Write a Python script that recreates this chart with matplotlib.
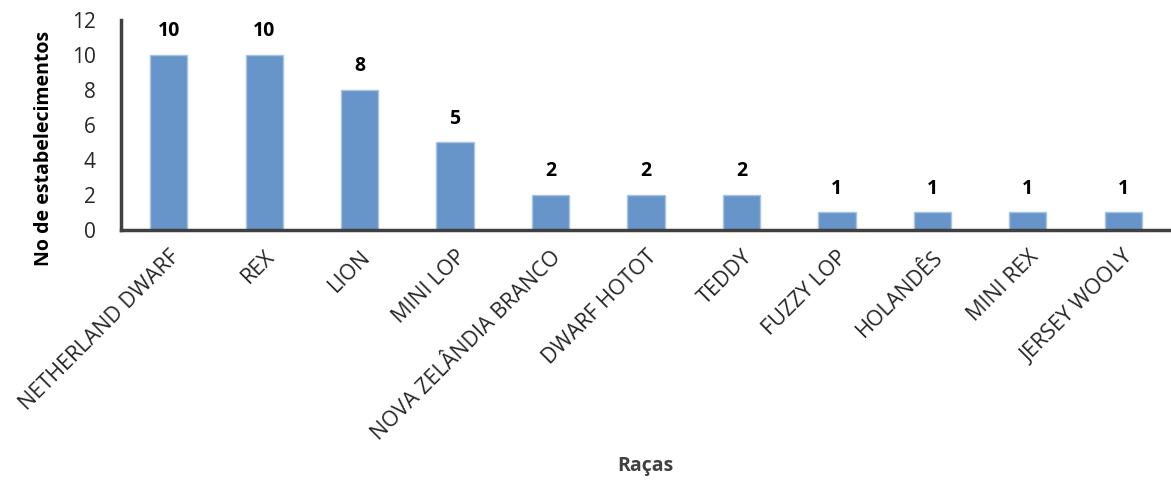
import matplotlib.pyplot as plt

plt.rcParams['font.family'] = ['Open Sans', 'DejaVu Sans']

racas = ['NETHERLAND DWARF', 'REX', 'LION', 'MINI LOP', 'NOVA ZELÂNDIA BRANCO',
         'DWARF HOTOT', 'TEDDY', 'FUZZY LOP', 'HOLANDÊS', 'MINI REX', 'JERSEY WOOLY']
estabelecimentos = [10, 10, 8, 5, 2, 2, 2, 1, 1, 1, 1]

bar_color = '#6795C9'
axis_color = '#404040'

fig = plt.figure(figsize=(11.71, 4.82), dpi=100)
ax = fig.add_axes([0.1033, 0.523, 0.8967, 0.4355])

x = range(len(racas))
bars = ax.bar(x, estabelecimentos, width=0.39, color=bar_color,
              edgecolor='#A9C3E3', linewidth=1)

for xi, v in zip(x, estabelecimentos):
    ax.annotate(str(v), (xi, v), xytext=(0, 10), textcoords='offset points',
                ha='center', va='bottom', fontsize=14, fontweight='bold', color='black')

ax.set_xlim(-0.5, len(racas) - 0.5)
ax.set_ylim(0, 12)
ax.set_yticks(range(0, 13, 2))
ax.set_xticks(list(x))
ax.set_xticklabels(racas, rotation=45, ha='right', va='top', rotation_mode='anchor',
                   fontsize=15.5, color='#262626')
ax.tick_params(axis='y', length=0, pad=18, labelsize=15, labelcolor='#262626')
ax.tick_params(axis='x', length=0, pad=12)

for side in ['top', 'right']:
    ax.spines[side].set_visible(False)
for side in ['left', 'bottom']:
    ax.spines[side].set_color(axis_color)
    ax.spines[side].set_linewidth(2.5)

ax.set_ylabel('No de estabelecimentos', fontsize=14, fontweight='bold')
ax.yaxis.set_label_coords(-0.064, 0.386)
fig.text(0.551, 0.033, 'Raças', ha='center', va='center', fontsize=14, fontweight='bold',
         color='#404040')

plt.savefig('out.png', dpi=100)
